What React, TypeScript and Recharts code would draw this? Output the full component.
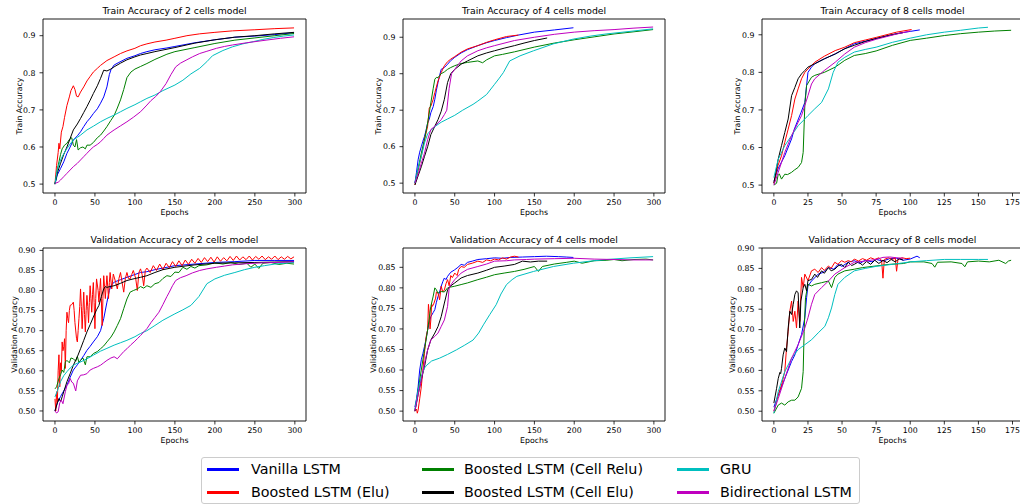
import React from 'react';
import { LineChart, Line, XAxis, YAxis, ReferenceArea, Label } from 'recharts';

type Pt = [number, number];

const seriesNames = ['Vanilla LSTM', 'Boosted LSTM (Elu)', 'Boosted LSTM (Cell Relu)', 'Boosted LSTM (Cell Elu)', 'GRU', 'Bidirectional LSTM'];
const seriesColors = ['#0000ff', '#ff0000', '#008000', '#000000', '#00bfbf', '#bf00bf'];

const epochTicks300 = [0, 50, 100, 150, 200, 250, 300];
const epochTicks175 = [0, 25, 50, 75, 100, 125, 150, 175];
const trainTicks = [0.5, 0.6, 0.7, 0.8, 0.9];
const valTicks = [0.5, 0.55, 0.6, 0.65, 0.7, 0.75, 0.8, 0.85, 0.9];
const valTicks4 = [0.5, 0.55, 0.6, 0.65, 0.7, 0.75, 0.8, 0.85];

// ---- Train accuracy, 2 cells ----
const tr2Vanilla: Pt[] = [[0,0.5],[3,0.525],[7,0.542],[11,0.56],[15,0.583],[19,0.6],[23,0.619],[28,0.63],[32,0.641],[36,0.655],[40,0.668],[44,0.678],[48,0.69],[53,0.703],[57,0.718],[61,0.735],[65,0.762],[68,0.795],[70,0.808],[74,0.821],[80,0.828],[90,0.839],[100,0.846],[107,0.852],[115,0.857],[125,0.862],[140,0.867],[150,0.871],[175,0.881],[200,0.889],[225,0.896],[250,0.899],[275,0.903],[299,0.908]];
const tr2Elu: Pt[] = [[0,0.5],[2,0.55],[4,0.585],[5,0.61],[6,0.595],[8,0.64],[10,0.655],[12,0.68],[15,0.712],[18,0.735],[20,0.752],[23,0.765],[25,0.755],[27,0.737],[29,0.735],[32,0.748],[36,0.762],[40,0.778],[44,0.79],[48,0.802],[53,0.812],[57,0.82],[65,0.833],[74,0.843],[82,0.852],[90,0.859],[100,0.866],[107,0.873],[115,0.878],[125,0.883],[139,0.888],[150,0.893],[165,0.9],[181,0.905],[200,0.909],[222,0.913],[250,0.916],[275,0.919],[299,0.921]];
const tr2Relu: Pt[] = [[0,0.5],[3,0.54],[5,0.56],[7,0.58],[9,0.595],[12,0.605],[15,0.61],[18,0.62],[21,0.625],[23,0.605],[25,0.6],[27,0.62],[29,0.592],[32,0.598],[35,0.6],[38,0.595],[40,0.605],[44,0.605],[48,0.612],[53,0.625],[57,0.632],[61,0.643],[65,0.655],[70,0.672],[74,0.685],[78,0.705],[82,0.727],[86,0.755],[90,0.787],[95,0.802],[100,0.81],[107,0.817],[115,0.825],[125,0.836],[140,0.85],[150,0.857],[175,0.868],[200,0.879],[225,0.888],[250,0.894],[275,0.9],[299,0.906]];
const tr2CellElu: Pt[] = [[0,0.5],[3,0.53],[7,0.556],[11,0.58],[15,0.6],[19,0.623],[23,0.646],[28,0.662],[32,0.677],[36,0.693],[40,0.709],[44,0.726],[48,0.744],[53,0.765],[57,0.785],[61,0.807],[65,0.805],[69,0.809],[74,0.816],[82,0.826],[90,0.835],[100,0.843],[107,0.848],[115,0.852],[125,0.857],[150,0.868],[175,0.88],[200,0.889],[225,0.896],[250,0.9],[275,0.905],[299,0.909]];
const tr2Gru: Pt[] = [[0,0.5],[3,0.54],[7,0.565],[11,0.582],[15,0.596],[19,0.608],[23,0.619],[28,0.626],[32,0.632],[40,0.646],[48,0.656],[57,0.668],[65,0.677],[74,0.686],[82,0.695],[90,0.704],[100,0.714],[107,0.722],[115,0.731],[125,0.74],[135,0.752],[150,0.767],[160,0.78],[170,0.797],[181,0.812],[190,0.83],[197,0.846],[210,0.86],[222,0.87],[235,0.878],[248,0.884],[260,0.89],[273,0.895],[286,0.899],[299,0.902]];
const tr2Bi: Pt[] = [[0,0.502],[4,0.505],[7,0.511],[11,0.52],[15,0.529],[19,0.538],[23,0.547],[28,0.556],[32,0.565],[36,0.574],[40,0.583],[44,0.592],[48,0.6],[53,0.607],[57,0.614],[61,0.623],[65,0.632],[70,0.64],[74,0.646],[82,0.657],[90,0.668],[98,0.68],[107,0.695],[115,0.713],[120,0.725],[126,0.736],[132,0.75],[139,0.771],[145,0.795],[151,0.816],[157,0.826],[164,0.834],[172,0.843],[181,0.852],[190,0.858],[202,0.866],[212,0.871],[222,0.875],[240,0.881],[264,0.888],[282,0.893],[299,0.897]];

// ---- Validation accuracy, 2 cells ----
const va2Vanilla: Pt[] = [[0,0.5],[3,0.52],[7,0.536],[11,0.55],[15,0.564],[19,0.584],[23,0.602],[28,0.615],[32,0.626],[36,0.638],[40,0.651],[44,0.661],[48,0.672],[53,0.685],[57,0.7],[61,0.73],[65,0.771],[68,0.8],[70,0.812],[74,0.821],[82,0.827],[90,0.833],[100,0.84],[107,0.845],[115,0.847],[125,0.852],[135,0.856],[150,0.862],[175,0.866],[200,0.87],[225,0.872],[250,0.875],[275,0.875],[299,0.875]];
const va2Elu: Pt[] = [[0,0.53],[1,0.5],[2,0.548],[3,0.52],[4,0.6],[5,0.64],[6,0.56],[7,0.62],[8,0.6],[9,0.672],[10,0.65],[11,0.66],[12,0.68],[13,0.606],[14,0.7],[15,0.746],[16,0.73],[17,0.72],[18,0.75],[19,0.763],[21,0.765],[23,0.771],[24,0.75],[25,0.72],[27,0.68],[28,0.672],[29,0.7],[30,0.73],[31,0.76],[32,0.804],[33,0.76],[34,0.705],[35,0.75],[36,0.796],[37,0.74],[38,0.697],[39,0.75],[40,0.788],[41,0.76],[42,0.72],[43,0.77],[44,0.812],[45,0.78],[46,0.746],[47,0.79],[48,0.82],[49,0.77],[50,0.705],[51,0.78],[52,0.829],[54,0.8],[55,0.771],[56,0.8],[57,0.83],[58,0.78],[59,0.713],[60,0.78],[61,0.837],[62,0.81],[63,0.78],[64,0.81],[65,0.837],[66,0.81],[67,0.78],[68,0.82],[69,0.845],[71,0.804],[73,0.841],[76,0.82],[78,0.804],[80,0.83],[82,0.845],[84,0.82],[86,0.796],[88,0.83],[90,0.845],[92,0.83],[94,0.829],[96,0.84],[98,0.85],[101,0.83],[103,0.8],[105,0.845],[107,0.854],[109,0.84],[111,0.812],[113,0.85],[115,0.856],[119,0.845],[123,0.862],[127,0.85],[131,0.866],[135,0.852],[139,0.868],[143,0.857],[147,0.872],[151,0.86],[155,0.874],[159,0.862],[163,0.876],[167,0.865],[171,0.878],[175,0.868],[179,0.88],[183,0.87],[187,0.882],[191,0.872],[195,0.883],[199,0.871],[203,0.884],[207,0.873],[211,0.882],[215,0.874],[219,0.885],[223,0.875],[227,0.886],[231,0.876],[235,0.884],[239,0.877],[243,0.886],[247,0.876],[251,0.885],[255,0.878],[259,0.886],[263,0.877],[267,0.884],[271,0.878],[275,0.886],[279,0.877],[283,0.884],[287,0.878],[291,0.885],[295,0.879],[299,0.884]];
const va2Relu: Pt[] = [[0,0.555],[2,0.56],[5,0.581],[7,0.59],[9,0.602],[11,0.596],[13,0.622],[15,0.626],[18,0.62],[20,0.632],[23,0.63],[26,0.624],[28,0.636],[30,0.62],[32,0.626],[35,0.632],[38,0.615],[40,0.635],[44,0.635],[48,0.643],[53,0.648],[57,0.655],[61,0.662],[65,0.672],[70,0.684],[74,0.697],[78,0.713],[82,0.73],[86,0.755],[90,0.779],[94,0.796],[98,0.8],[103,0.804],[107,0.81],[111,0.806],[115,0.812],[120,0.808],[125,0.817],[130,0.82],[135,0.83],[140,0.837],[145,0.835],[150,0.846],[155,0.845],[160,0.858],[165,0.853],[170,0.86],[175,0.856],[180,0.862],[190,0.864],[200,0.869],[210,0.866],[220,0.87],[230,0.865],[240,0.868],[245,0.858],[250,0.866],[255,0.855],[260,0.868],[270,0.87],[280,0.865],[290,0.868],[299,0.866]];
const va2CellElu: Pt[] = [[0,0.5],[3,0.52],[5,0.531],[7,0.523],[9,0.535],[11,0.548],[15,0.573],[19,0.593],[23,0.614],[28,0.635],[32,0.655],[36,0.676],[40,0.697],[44,0.715],[48,0.734],[52,0.752],[55,0.763],[58,0.785],[61,0.804],[63,0.81],[65,0.808],[69,0.81],[74,0.812],[82,0.818],[90,0.825],[100,0.83],[107,0.833],[115,0.837],[125,0.845],[135,0.852],[150,0.858],[175,0.864],[200,0.868],[225,0.869],[250,0.87],[275,0.871],[299,0.872]];
const va2Gru: Pt[] = [[0,0.535],[3,0.55],[7,0.573],[11,0.588],[15,0.598],[19,0.607],[23,0.614],[28,0.619],[32,0.622],[40,0.63],[48,0.639],[57,0.649],[65,0.656],[74,0.664],[82,0.67],[90,0.676],[100,0.685],[107,0.693],[115,0.7],[125,0.713],[135,0.726],[150,0.742],[160,0.752],[170,0.763],[180,0.785],[190,0.817],[200,0.829],[212,0.838],[225,0.845],[237,0.852],[250,0.858],[262,0.862],[275,0.866],[287,0.868],[299,0.87]];
const va2Bi: Pt[] = [[0,0.5],[2,0.495],[4,0.498],[6,0.52],[8,0.527],[10,0.518],[13,0.548],[15,0.564],[17,0.568],[19,0.581],[21,0.572],[23,0.569],[26,0.55],[28,0.575],[32,0.589],[36,0.59],[40,0.593],[44,0.602],[48,0.606],[53,0.61],[57,0.614],[61,0.62],[65,0.626],[70,0.632],[74,0.635],[78,0.63],[82,0.639],[86,0.648],[90,0.655],[95,0.665],[99,0.672],[103,0.68],[107,0.688],[111,0.697],[115,0.705],[120,0.72],[125,0.733],[130,0.746],[135,0.765],[140,0.785],[143,0.796],[147,0.812],[151,0.825],[157,0.832],[164,0.837],[172,0.844],[181,0.85],[190,0.854],[202,0.858],[212,0.861],[222,0.864],[240,0.867],[260,0.869],[280,0.87],[299,0.872]];

// ---- Train accuracy, 4 cells ----
const tr4Vanilla: Pt[] = [[0,0.5],[2,0.53],[4,0.564],[6,0.585],[8,0.6],[10,0.615],[12,0.628],[14,0.645],[16,0.665],[18,0.675],[20,0.693],[23,0.71],[25,0.73],[27,0.755],[29,0.776],[31,0.795],[33,0.812],[35,0.815],[37,0.817],[41,0.826],[45,0.836],[50,0.845],[58,0.857],[66,0.866],[79,0.877],[90,0.885],[100,0.891],[115,0.899],[130,0.906],[150,0.914],[175,0.92],[199,0.926]];
const tr4Elu: Pt[] = [[0,0.495],[4,0.536],[8,0.573],[12,0.619],[16,0.656],[18,0.706],[20,0.711],[23,0.73],[25,0.748],[29,0.78],[33,0.803],[37,0.822],[41,0.833],[45,0.84],[50,0.847],[58,0.859],[66,0.868],[79,0.877],[90,0.886],[100,0.893],[115,0.902],[130,0.906]];
const tr4Relu: Pt[] = [[0,0.5],[4,0.54],[8,0.582],[12,0.619],[16,0.665],[20,0.72],[23,0.76],[25,0.785],[27,0.79],[29,0.789],[31,0.795],[33,0.8],[37,0.805],[41,0.812],[45,0.817],[50,0.822],[58,0.828],[66,0.831],[79,0.835],[85,0.83],[90,0.838],[100,0.849],[110,0.853],[125,0.86],[150,0.873],[175,0.884],[200,0.893],[225,0.901],[250,0.909],[275,0.915],[299,0.921]];
const tr4CellElu: Pt[] = [[0,0.495],[4,0.52],[8,0.545],[12,0.573],[16,0.6],[20,0.633],[25,0.656],[29,0.674],[33,0.697],[37,0.73],[41,0.776],[45,0.8],[50,0.812],[58,0.826],[66,0.835],[79,0.849],[90,0.857],[100,0.863],[112,0.87],[125,0.877],[137,0.884],[150,0.891],[166,0.898]];
const tr4Gru: Pt[] = [[0,0.5],[4,0.54],[8,0.573],[12,0.61],[16,0.635],[20,0.645],[25,0.655],[33,0.667],[41,0.676],[50,0.686],[60,0.7],[73,0.716],[79,0.725],[90,0.743],[100,0.771],[106,0.788],[111,0.803],[119,0.835],[132,0.849],[149,0.863],[174,0.882],[199,0.895],[220,0.903],[240,0.909],[270,0.916],[299,0.923]];
const tr4Bi: Pt[] = [[0,0.5],[4,0.525],[8,0.554],[12,0.582],[16,0.619],[20,0.647],[25,0.656],[29,0.665],[33,0.674],[37,0.688],[40,0.7],[43,0.76],[46,0.8],[50,0.812],[58,0.835],[66,0.849],[79,0.863],[90,0.871],[100,0.877],[125,0.891],[150,0.9],[175,0.908],[200,0.914],[225,0.918],[250,0.921],[275,0.925],[299,0.928]];

// ---- Validation accuracy, 4 cells ----
const va4Vanilla: Pt[] = [[0,0.51],[2,0.53],[4,0.559],[6,0.6],[8,0.625],[10,0.64],[12,0.657],[14,0.675],[16,0.698],[18,0.715],[20,0.73],[23,0.74],[25,0.747],[27,0.765],[29,0.779],[31,0.79],[33,0.804],[35,0.815],[37,0.824],[39,0.82],[41,0.828],[45,0.838],[50,0.844],[54,0.85],[58,0.857],[62,0.855],[66,0.862],[72,0.865],[79,0.869],[90,0.871],[100,0.873],[110,0.872],[120,0.874],[135,0.875],[150,0.876],[165,0.877],[180,0.876],[190,0.875],[199,0.874]];
const va4Elu: Pt[] = [[0,0.5],[2,0.505],[3,0.495],[4,0.502],[6,0.53],[8,0.559],[10,0.6],[12,0.641],[14,0.68],[16,0.698],[17,0.76],[18,0.738],[19,0.7],[20,0.722],[21,0.76],[22,0.755],[24,0.763],[26,0.775],[27,0.79],[29,0.787],[30,0.78],[31,0.771],[33,0.804],[35,0.79],[37,0.795],[39,0.81],[41,0.82],[43,0.805],[45,0.83],[47,0.825],[50,0.836],[53,0.83],[55,0.845],[58,0.852],[62,0.85],[66,0.857],[72,0.86],[79,0.865],[85,0.862],[90,0.868],[95,0.866],[100,0.87],[105,0.868],[110,0.873],[115,0.87],[120,0.875],[125,0.877],[130,0.875]];
const va4Relu: Pt[] = [[0,0.5],[4,0.55],[8,0.6],[12,0.649],[16,0.698],[20,0.755],[23,0.78],[25,0.8],[27,0.795],[29,0.787],[31,0.79],[33,0.791],[37,0.79],[41,0.8],[45,0.802],[50,0.804],[58,0.808],[66,0.812],[79,0.82],[90,0.826],[100,0.832],[112,0.836],[125,0.84],[137,0.845],[150,0.852],[155,0.84],[160,0.852],[175,0.858],[190,0.862],[200,0.865],[210,0.86],[225,0.866],[240,0.867],[250,0.869],[260,0.866],[275,0.869],[290,0.87],[299,0.868]];
const va4CellElu: Pt[] = [[0,0.5],[4,0.54],[8,0.576],[12,0.608],[16,0.649],[20,0.673],[25,0.69],[29,0.706],[33,0.73],[37,0.763],[41,0.795],[45,0.805],[50,0.812],[58,0.824],[66,0.83],[79,0.836],[90,0.843],[100,0.85],[112,0.853],[125,0.857],[135,0.865],[145,0.863],[155,0.865],[166,0.865]];
const va4Gru: Pt[] = [[0,0.505],[4,0.55],[8,0.585],[12,0.605],[15,0.612],[21,0.622],[31,0.629],[41,0.638],[52,0.649],[62,0.66],[73,0.673],[80,0.69],[86,0.71],[94,0.735],[102,0.759],[108,0.785],[115,0.808],[122,0.82],[128,0.828],[149,0.84],[174,0.852],[199,0.86],[220,0.865],[241,0.869],[270,0.873],[299,0.876]];
const va4Bi: Pt[] = [[0,0.5],[4,0.54],[8,0.576],[12,0.616],[16,0.649],[20,0.673],[25,0.682],[29,0.69],[33,0.706],[37,0.722],[41,0.755],[43,0.8],[46,0.81],[50,0.82],[58,0.836],[66,0.845],[79,0.852],[90,0.858],[100,0.865],[115,0.866],[125,0.868],[140,0.869],[150,0.87],[175,0.871],[200,0.872],[225,0.87],[250,0.869],[275,0.868],[299,0.868]];

// ---- Train accuracy, 8 cells ----
const tr8Vanilla: Pt[] = [[0,0.51],[3,0.543],[8,0.578],[13,0.623],[15,0.649],[18,0.676],[20,0.694],[22.7,0.72],[24,0.765],[25,0.8],[27.6,0.814],[30,0.823],[37,0.836],[45,0.849],[52,0.863],[59,0.876],[67,0.883],[75,0.89],[90,0.903],[100,0.909],[107,0.913]];
const tr8Elu: Pt[] = [[0,0.505],[3,0.552],[5.6,0.578],[8,0.614],[10.5,0.649],[13,0.685],[15.4,0.729],[17.8,0.756],[20.3,0.783],[22.7,0.8],[25,0.809],[30,0.827],[37,0.843],[45,0.858],[52,0.867],[59,0.879],[67,0.886],[75,0.893],[90,0.907],[101,0.914]];
const tr8Relu: Pt[] = [[0,0.5],[2,0.505],[3,0.525],[4,0.53],[5.6,0.516],[8,0.529],[10,0.528],[13,0.534],[15,0.54],[17.8,0.547],[20.3,0.56],[21.5,0.587],[22.7,0.712],[24,0.765],[27.6,0.787],[30,0.792],[37,0.8],[45,0.814],[52,0.832],[59,0.845],[67,0.85],[75,0.857],[87,0.872],[100,0.885],[112,0.891],[125,0.898],[137,0.903],[150,0.907],[162,0.91],[174,0.912]];
const tr8CellElu: Pt[] = [[0,0.505],[3.2,0.569],[5.6,0.605],[8,0.64],[10.5,0.676],[13,0.738],[15.4,0.76],[17.8,0.783],[20.3,0.796],[22.7,0.805],[25,0.814],[30,0.823],[37,0.836],[45,0.849],[52,0.863],[59,0.872],[67,0.882],[75,0.89],[85,0.899],[95,0.906]];
const tr8Gru: Pt[] = [[0,0.52],[3.2,0.569],[8,0.605],[13,0.632],[17.8,0.658],[22.7,0.676],[25,0.685],[30,0.703],[35,0.72],[40,0.756],[43.5,0.8],[47,0.827],[52,0.84],[59,0.854],[67,0.861],[75,0.867],[87,0.88],[100,0.891],[112,0.9],[125,0.907],[137,0.912],[150,0.918],[157,0.92]];
const tr8Bi: Pt[] = [[0,0.5],[3.2,0.534],[8,0.587],[13,0.632],[17.8,0.667],[20.3,0.685],[22.7,0.712],[25,0.738],[27.6,0.769],[30,0.783],[37,0.805],[45,0.827],[52,0.849],[59,0.867],[67,0.879],[75,0.888],[90,0.902],[100,0.91]];

// ---- Validation accuracy, 8 cells ----
const va8Vanilla: Pt[] = [[0,0.51],[3.2,0.54],[8,0.58],[13,0.622],[15.4,0.638],[17.8,0.663],[20.3,0.688],[22.7,0.729],[24,0.778],[25,0.807],[27.6,0.819],[32.5,0.836],[36,0.84],[40,0.852],[44,0.848],[47,0.86],[50,0.855],[54.5,0.865],[59,0.869],[63,0.862],[67,0.87],[72,0.866],[75,0.872],[80,0.868],[85,0.874],[90,0.875],[95,0.87],[100,0.873],[105,0.88],[107,0.876]];
const va8Elu: Pt[] = [[0,0.5],[3.2,0.54],[5.6,0.564],[8,0.597],[9.3,0.655],[10.5,0.696],[11.7,0.745],[13,0.77],[14.2,0.72],[15.4,0.745],[16.6,0.704],[17.8,0.77],[19,0.72],[20.3,0.828],[21.5,0.803],[22.7,0.836],[25,0.82],[27.6,0.844],[30,0.848],[32.5,0.84],[35,0.852],[37,0.845],[40,0.856],[42,0.85],[44.7,0.865],[47,0.86],[49.6,0.869],[52,0.865],[54.5,0.869],[57,0.866],[59,0.873],[62,0.868],[65,0.874],[68,0.87],[71,0.876],[74,0.872],[77,0.876],[79,0.87],[80,0.826],[81,0.872],[84,0.876],[87,0.872],[89,0.876],[90,0.843],[91,0.872],[94,0.876],[97,0.874],[100,0.875]];
const va8Relu: Pt[] = [[0,0.495],[3.2,0.515],[5.6,0.52],[8,0.515],[10.5,0.523],[13,0.527],[15.4,0.527],[17.8,0.535],[20.3,0.556],[21.5,0.597],[22.2,0.696],[23.2,0.778],[25,0.811],[27.6,0.807],[30,0.811],[35,0.815],[40,0.819],[42.3,0.803],[44.7,0.828],[47,0.836],[52,0.844],[59,0.848],[65,0.852],[75,0.856],[85,0.86],[95,0.862],[100,0.866],[110,0.866],[116,0.862],[118,0.853],[120,0.865],[130,0.866],[138,0.862],[140,0.854],[142,0.866],[150,0.868],[158,0.866],[165,0.87],[170,0.862],[172,0.868],[174,0.87]];
const va8CellElu: Pt[] = [[0,0.52],[2,0.556],[3.2,0.58],[4.4,0.595],[5,0.592],[5.6,0.605],[6.8,0.638],[8,0.655],[9.3,0.646],[10.5,0.704],[11.7,0.745],[13,0.737],[14.2,0.762],[15.4,0.786],[16.6,0.795],[17.8,0.79],[19,0.704],[19.8,0.77],[21.5,0.803],[22.7,0.811],[24,0.795],[25,0.82],[27.6,0.823],[30,0.836],[32,0.828],[35,0.844],[37,0.838],[40,0.852],[42,0.844],[44.7,0.848],[47,0.856],[49.6,0.86],[52,0.852],[54.5,0.865],[57,0.857],[59,0.86],[62,0.866],[65,0.858],[68,0.867],[71,0.86],[74,0.87],[77,0.862],[80,0.87],[83,0.864],[86,0.872],[89,0.866],[92,0.874],[95,0.87]];
const va8Gru: Pt[] = [[0,0.495],[3.2,0.548],[8,0.597],[13,0.63],[17.8,0.651],[22.7,0.663],[27.6,0.675],[32.5,0.692],[37.4,0.708],[40,0.729],[42.3,0.753],[44.7,0.786],[47,0.811],[52,0.828],[59,0.844],[67,0.85],[75,0.855],[87,0.86],[100,0.866],[112,0.869],[125,0.872],[137,0.872],[150,0.872],[157,0.872]];
const va8Bi: Pt[] = [[0,0.5],[3.2,0.531],[8,0.58],[13,0.63],[17.8,0.663],[22.7,0.704],[25,0.729],[27.6,0.762],[30,0.786],[35,0.803],[40,0.819],[44.7,0.836],[52,0.852],[59,0.865],[67,0.868],[75,0.872],[80,0.877],[85,0.878],[90,0.876],[95,0.875]];

const FONT = '"DejaVu Sans", sans-serif';
const YW = 45;
const XH = 26;
const MT = 4;
const MR = 4;

type PanelProps = {
  box: [number, number, number, number];
  xDomain: [number, number];
  yDomain: [number, number];
  xTicks: number[];
  yTicks: number[];
  digits: number;
  title: string;
  yLabel: string;
  labelGap: number;
  lines: Pt[][];
};

function Panel({ box, xDomain, yDomain, xTicks, yTicks, digits, title, yLabel, labelGap, lines }: PanelProps) {
  const [bx, by, bw, bh] = box;
  const yLabelContent = (p: any) => {
    const vb = p.viewBox;
    const cx = vb.x + vb.width - labelGap;
    const cy = vb.y + vb.height / 2;
    return (
      <text x={cx} y={cy} transform={`rotate(-90 ${cx} ${cy})`} textAnchor="middle" dominantBaseline="central" fontSize={7.8} fontFamily={FONT} fill="#000">
        {yLabel}
      </text>
    );
  };
  const xLabelContent = (p: any) => {
    const vb = p.viewBox;
    return (
      <text x={vb.x + vb.width / 2} y={vb.y + 19.5} textAnchor="middle" dominantBaseline="central" fontSize={7.8} fontFamily={FONT} fill="#000">
        Epochs
      </text>
    );
  };
  return (
    <>
      <div style={{ position: 'absolute', left: bx, top: by - 14, width: bw, height: 12, lineHeight: '12px', textAlign: 'center', fontSize: 9.3, fontFamily: FONT, color: '#000', whiteSpace: 'nowrap' }}>
        {title}
      </div>
      <div style={{ position: 'absolute', left: bx - YW, top: by - MT }}>
        <LineChart width={YW + bw + MR} height={MT + bh + XH} margin={{ top: MT, right: MR, bottom: 0, left: 0 }}>
          <XAxis type="number" dataKey="x" domain={xDomain} allowDataOverflow ticks={xTicks} interval={0} axisLine={false} height={XH}
            tickSize={3.5} tickMargin={3} tickLine={{ stroke: '#000', strokeWidth: 0.8 }} tick={{ fontSize: 7.8, fill: '#000', fontFamily: FONT }}
            label={<Label content={xLabelContent} />} />
          <YAxis type="number" domain={yDomain} allowDataOverflow ticks={yTicks} interval={0} axisLine={false} width={YW}
            tickSize={3.5} tickMargin={4} tickLine={{ stroke: '#000', strokeWidth: 0.8 }} tick={{ fontSize: 7.8, fill: '#000', fontFamily: FONT }}
            tickFormatter={(v: number) => v.toFixed(digits)}
            label={<Label content={yLabelContent} />} />
          {lines.map((pts, i) => (
            <Line key={i} data={pts.map(([x, y]) => ({ x, y }))} dataKey="y" type="linear" stroke={seriesColors[i]} strokeWidth={1} dot={false} activeDot={false} isAnimationActive={false} />
          ))}
          <ReferenceArea x1={xDomain[0]} x2={xDomain[1]} y1={yDomain[0]} y2={yDomain[1]} fill="none" stroke="#000" strokeWidth={0.9} fillOpacity={0} />
        </LineChart>
      </div>
    </>
  );
}

function LegendBox() {
  const lineX = [5, 220, 475];
  const textX = [49, 262, 518];
  const rowY = [11, 34];
  return (
    <div style={{ position: 'absolute', left: 201, top: 457, width: 657, height: 45, border: '1px solid #cccccc', borderRadius: 3, background: '#fff', fontFamily: FONT }}>
      {seriesNames.map((name, i) => {
        const col = Math.floor(i / 2);
        const row = i % 2;
        return (
          <React.Fragment key={name}>
            <div style={{ position: 'absolute', left: lineX[col], top: rowY[row] - 1.5, width: 32, height: 3, background: seriesColors[i] }} />
            <div style={{ position: 'absolute', left: textX[col], top: rowY[row] - 9, height: 18, lineHeight: '18px', fontSize: 14.3, color: '#000', whiteSpace: 'nowrap' }}>
              {name}
            </div>
          </React.Fragment>
        );
      })}
    </div>
  );
}

export default function App() {
  const d300: [number, number] = [-14.95, 313.95];
  const d175: [number, number] = [-8.7, 182.7];
  return (
    <div style={{ position: 'absolute', left: 0, top: 0, width: 1020, height: 504, overflow: 'hidden', background: '#fff' }}>
      <Panel box={[43, 19, 263, 174]} xDomain={d300} yDomain={[0.476, 0.945]} xTicks={epochTicks300} yTicks={trainTicks} digits={1}
        title="Train Accuracy of 2 cells model" yLabel="Train Accuracy" labelGap={24}
        lines={[tr2Vanilla, tr2Elu, tr2Relu, tr2CellElu, tr2Gru, tr2Bi]} />
      <Panel box={[403, 19, 262, 174]} xDomain={d300} yDomain={[0.473, 0.95]} xTicks={epochTicks300} yTicks={trainTicks} digits={1}
        title="Train Accuracy of 4 cells model" yLabel="Train Accuracy" labelGap={24.5}
        lines={[tr4Vanilla, tr4Elu, tr4Relu, tr4CellElu, tr4Gru, tr4Bi]} />
      <Panel box={[762, 19, 261, 174]} xDomain={d175} yDomain={[0.479, 0.942]} xTicks={epochTicks175} yTicks={trainTicks} digits={1}
        title="Train Accuracy of 8 cells model" yLabel="Train Accuracy" labelGap={25}
        lines={[tr8Vanilla, tr8Elu, tr8Relu, tr8CellElu, tr8Gru, tr8Bi]} />
      <Panel box={[43, 248, 263, 173]} xDomain={d300} yDomain={[0.475, 0.906]} xTicks={epochTicks300} yTicks={valTicks} digits={2}
        title="Validation Accuracy of 2 cells model" yLabel="Validation Accuracy" labelGap={29}
        lines={[va2Vanilla, va2Elu, va2Relu, va2CellElu, va2Gru, va2Bi]} />
      <Panel box={[403, 248, 262, 173]} xDomain={d300} yDomain={[0.476, 0.897]} xTicks={epochTicks300} yTicks={valTicks4} digits={2}
        title="Validation Accuracy of 4 cells model" yLabel="Validation Accuracy" labelGap={29.5}
        lines={[va4Vanilla, va4Elu, va4Relu, va4CellElu, va4Gru, va4Bi]} />
      <Panel box={[762, 248, 261, 173]} xDomain={d175} yDomain={[0.476, 0.9]} xTicks={epochTicks175} yTicks={valTicks} digits={2}
        title="Validation Accuracy of 8 cells model" yLabel="Validation Accuracy" labelGap={30}
        lines={[va8Vanilla, va8Elu, va8Relu, va8CellElu, va8Gru, va8Bi]} />
      <LegendBox />
    </div>
  );
}
